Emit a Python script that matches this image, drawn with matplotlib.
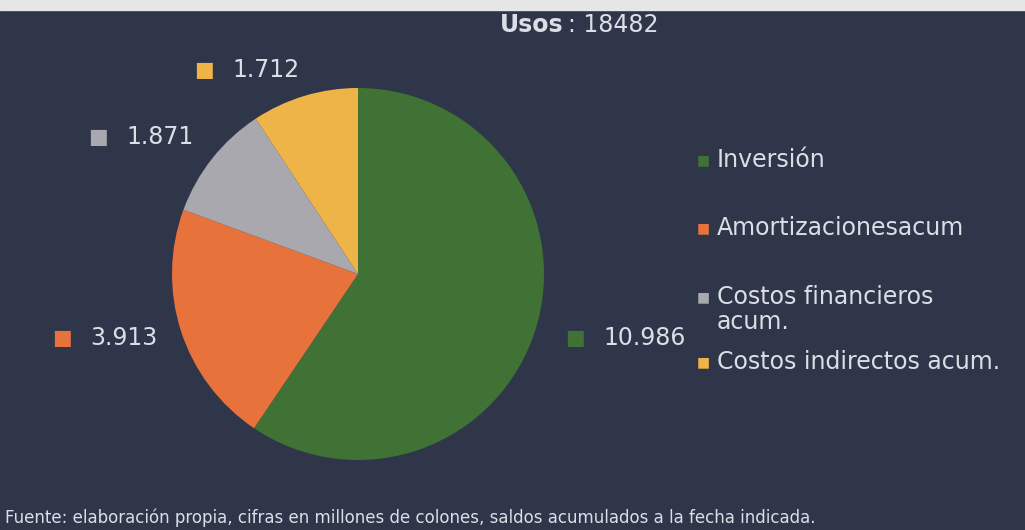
#!/usr/bin/env python3

import matplotlib.pyplot as plt
from matplotlib.patches import Rectangle

plt.rcParams['font.family'] = ['DejaVu Sans']

categorias = ['Inversión', 'Amortizacionesacum', 'Costos financieros\nacum.',
              'Costos indirectos acum.']
valores = [10.986, 3.913, 1.871, 1.712]
etiquetas = ['10.986', '3.913', '1.871', '1.712']
colores = ['#3f7234', '#e8723c', '#a9a8ae', '#eeb448']
total = 18482

fondo = '#30364a'
texto = '#dcdee6'

fig = plt.figure(figsize=(10.25, 5.3), dpi=100)
fig.patch.set_facecolor(fondo)
fig.add_artist(Rectangle((0, 0.982), 1, 0.018, transform=fig.transFigure,
                         color='#e6e6e8', zorder=0))

W, H = 1025, 530
cx, cy, r = 358, 274, 186
ax = fig.add_axes([(cx - r) / W, (H - cy - r) / H, 2 * r / W, 2 * r / H])
ax.set_facecolor(fondo)
ax.pie(valores, colors=colores, startangle=90, counterclock=False,
       wedgeprops=dict(linewidth=0))
ax.set_xlim(-1, 1)
ax.set_ylim(-1, 1)
ax.set_aspect('equal')

# etiquetas de datos (posiciones en pixeles de la imagen)
pos_etq = [(565, 338), (52, 338), (88, 137), (194, 70)]
for (x, y), txt, c in zip(pos_etq, etiquetas, colores):
    fig.text(x / W, 1 - y / H, '■', color=c, fontsize=15, va='center')
    fig.text((x + 38) / W, 1 - y / H, txt, color=texto, fontsize=17,
             va='center')

# leyenda
pos_ley = [160, 228, 297, 362]
for y, nom, c in zip(pos_ley, categorias, colores):
    fig.text(697 / W, 1 - y / H, '■', color=c, fontsize=10, va='center')
    for i, linea in enumerate(nom.split('\n')):
        fig.text(717 / W, 1 - (y + 25 * i) / H, linea, color=texto,
                 fontsize=17, va='center')

t1 = fig.text(500 / W, 1 - 25 / H, 'Usos', color=texto, fontsize=17,
              fontweight='bold', va='center')
fig.canvas.draw()
bb = t1.get_window_extent()
fig.text((bb.x1 + 4) / W, 1 - 25 / H, f': {total}', color=texto,
         fontsize=17, va='center')

fig.text(5 / W, 1 - 518 / H,
         'Fuente: elaboración propia, cifras en millones de colones, '
         'saldos acumulados a la fecha indicada.',
         color=texto, fontsize=12, va='center')

fig.savefig('out.png', dpi=100, facecolor=fondo)
